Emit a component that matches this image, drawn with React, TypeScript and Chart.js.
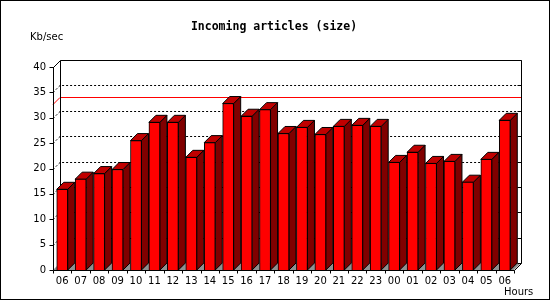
import React, { useEffect, useRef } from "react";
import { Chart, registerables } from "chart.js";

Chart.register(...registerables);

const hours = ["06","07","08","09","10","11","12","13","14","15","16","17","18","19","20","21","22","23","00","01","02","03","04","05","06"];
const kbPerSec = [15.9, 17.9, 19.0, 19.8, 25.5, 29.1, 29.1, 22.2, 25.1, 32.8, 30.3, 31.6, 26.9, 28.1, 26.7, 28.3, 28.5, 28.3, 21.2, 23.2, 21.0, 21.4, 17.3, 21.8, 29.5];
const yTickValues = [0, 5, 10, 15, 20, 25, 30, 35, 40];
const titleText = "Incoming articles (size)";
const yTitle = "Kb/sec";
const xTitle = "Hours";

const D = 7;
const FRONT = "#ff0000";
const TOP = "#c00000";
const SIDE = "#800000";
const FLOOR = "#909090";

const threeD = {
  id: "threeD",
  beforeDatasetsDraw(chart: any) {
    const { ctx, chartArea, scales } = chart;
    const { left, right, top, bottom } = chartArea;
    const y = scales.y;
    ctx.save();
    ctx.lineWidth = 1;
    ctx.fillStyle = FLOOR;
    ctx.beginPath();
    ctx.moveTo(left, bottom);
    ctx.lineTo(right, bottom);
    ctx.lineTo(right + D, bottom - D);
    ctx.lineTo(left + D, bottom - D);
    ctx.closePath();
    ctx.fill();
    ctx.strokeStyle = "#000";
    ctx.setLineDash([2, 2]);
    for (const v of yTickValues) {
      if (v === 0 || v === 40) continue;
      const yy = Math.round(y.getPixelForValue(v)) + 0.5;
      ctx.beginPath();
      ctx.moveTo(left, yy);
      ctx.lineTo(left + D, yy - D);
      ctx.lineTo(right + D, yy - D);
      ctx.stroke();
    }
    ctx.setLineDash([]);
    const maxV = Math.max(...kbPerSec);
    const my = Math.round(y.getPixelForValue(maxV)) + 0.5;
    ctx.strokeStyle = "#ff0000";
    ctx.beginPath();
    ctx.moveTo(left, my);
    ctx.lineTo(left + D, my - D);
    ctx.lineTo(right + D, my - D);
    ctx.stroke();
    ctx.strokeStyle = "#000";
    const L = Math.round(left) + 0.5;
    const R = Math.round(right) + 0.5;
    const T = Math.round(top) + 0.5;
    const B = Math.round(bottom) + 0.5;
    ctx.beginPath();
    ctx.moveTo(L, T);
    ctx.lineTo(L + D, T - D);
    ctx.lineTo(R + D, T - D);
    ctx.lineTo(R + D, B - D);
    ctx.lineTo(R, B);
    ctx.moveTo(L + D, T - D);
    ctx.lineTo(L + D, B - D);
    ctx.stroke();
    for (const v of yTickValues) {
      const yy = Math.round(y.getPixelForValue(v)) + 0.5 - D;
      ctx.beginPath();
      ctx.moveTo(R + D, yy);
      ctx.lineTo(R + D - 4, yy);
      ctx.stroke();
    }
    const meta = chart.getDatasetMeta(0);
    meta.data.forEach((bar: any) => {
      const p = bar.getProps(["x", "y", "base", "width"], true);
      const bl = p.x - p.width / 2;
      const br = p.x + p.width / 2;
      const ty = p.y;
      const bb = p.base;
      ctx.fillStyle = SIDE;
      ctx.beginPath();
      ctx.moveTo(br, ty);
      ctx.lineTo(br + D, ty - D);
      ctx.lineTo(br + D, bb - D);
      ctx.lineTo(br, bb);
      ctx.closePath();
      ctx.fill();
      ctx.stroke();
      ctx.fillStyle = TOP;
      ctx.beginPath();
      ctx.moveTo(bl, ty);
      ctx.lineTo(br, ty);
      ctx.lineTo(br + D, ty - D);
      ctx.lineTo(bl + D, ty - D);
      ctx.closePath();
      ctx.fill();
      ctx.stroke();
    });
    ctx.restore();
  },
  afterDatasetsDraw(chart: any) {
    const { ctx, chartArea, scales } = chart;
    const { left, right, top, bottom } = chartArea;
    const y = scales.y;
    ctx.save();
    ctx.strokeStyle = "#000";
    ctx.lineWidth = 1;
    const L = Math.round(left) + 0.5;
    const B = Math.round(bottom) + 0.5;
    ctx.beginPath();
    ctx.moveTo(L, Math.round(top));
    ctx.lineTo(L, B);
    ctx.lineTo(Math.round(right) + 0.5, B);
    ctx.stroke();
    for (const v of yTickValues) {
      const yy = Math.round(y.getPixelForValue(v)) + 0.5;
      ctx.beginPath();
      ctx.moveTo(L - 4, yy);
      ctx.lineTo(L, yy);
      ctx.stroke();
    }
    const step = (right - left) / hours.length;
    for (let i = 0; i <= hours.length; i++) {
      const xx = Math.round(left + i * step) + 0.5;
      ctx.beginPath();
      ctx.moveTo(xx, B);
      ctx.lineTo(xx, B + 3);
      ctx.stroke();
    }
    ctx.restore();
  },
  afterDraw(chart: any) {
    const { ctx, width, height } = chart;
    ctx.save();
    ctx.strokeStyle = "#000";
    ctx.lineWidth = 1;
    ctx.strokeRect(0.5, 0.5, width - 1, height - 1);
    ctx.fillStyle = "#000";
    ctx.textBaseline = "middle";
    ctx.textAlign = "center";
    ctx.font = 'bold 11.5px "DejaVu Sans Mono"';
    ctx.fillText(titleText, 274, 27);
    ctx.font = '10px "DejaVu Sans"';
    ctx.textAlign = "left";
    ctx.fillText(yTitle, 30, 37);
    ctx.fillText(xTitle, 504, 292);
    ctx.restore();
  },
};

export default function App() {
  const ref = useRef<HTMLCanvasElement>(null);
  useEffect(() => {
    const chart = new Chart(ref.current as HTMLCanvasElement, {
      type: "bar",
      data: {
        labels: hours,
        datasets: [
          {
            data: kbPerSec,
            backgroundColor: FRONT,
            borderColor: "#000",
            borderWidth: 1,
            barThickness: 11,
          },
        ],
      },
      options: {
        animation: false,
        responsive: false,
        maintainAspectRatio: false,
        layout: { padding: { top: 67, right: 36, left: 0, bottom: 0 } },
        plugins: { legend: { display: false }, tooltip: { enabled: false }, title: { display: false } },
        scales: {
          x: {
            grid: { display: false, drawTicks: false },
            border: { display: false },
            ticks: { color: "#000", font: { family: "DejaVu Sans", size: 10 }, padding: 5, maxRotation: 0, autoSkip: false },
            afterFit: (s: any) => { s.height = 30; },
          },
          y: {
            min: 0,
            max: 40,
            grid: { display: false, drawTicks: false },
            border: { display: false },
            ticks: { stepSize: 5, color: "#000", font: { family: "DejaVu Sans", size: 10 }, padding: 7 },
            afterFit: (s: any) => { s.width = 53; },
          },
        },
      },
      plugins: [threeD],
    });
    return () => chart.destroy();
  }, []);
  return (
    <div style={{ position: "absolute", left: 0, top: 0, width: 550, height: 300, background: "#fff" }}>
      <canvas ref={ref} width={550} height={300} style={{ display: "block" }} />
    </div>
  );
}
